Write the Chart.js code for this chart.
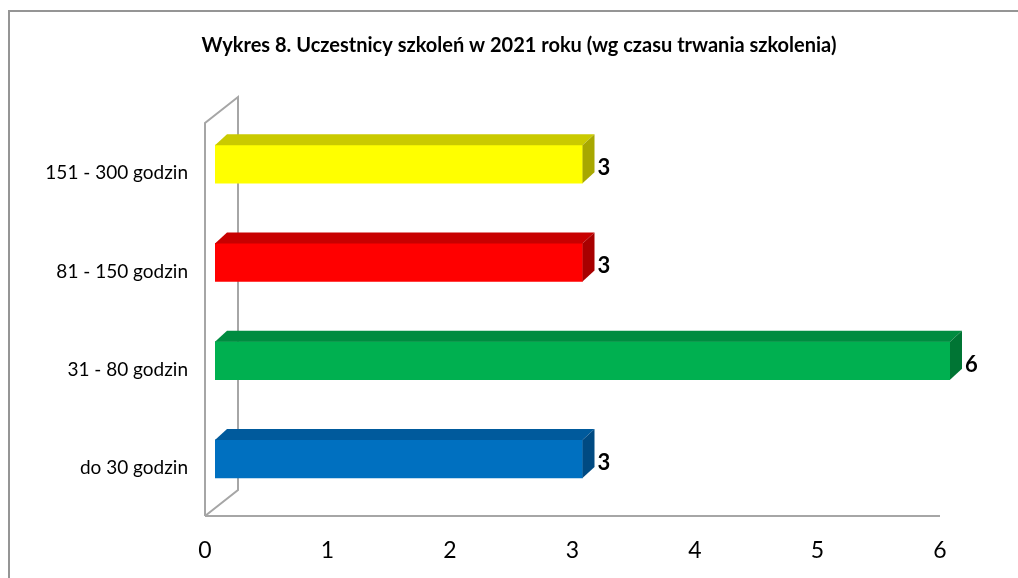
<!DOCTYPE html>
<html>
<head>
<meta charset="utf-8">
<script src="https://cdn.jsdelivr.net/npm/chart.js@4"></script>
<style>
  html, body { margin: 0; padding: 0; background: #ffffff; }
  #wrap { width: 1018px; height: 578px; position: relative; }
</style>
</head>
<body>
<div id="wrap"><canvas id="c" width="1018" height="578"></canvas></div>
<script>
// Training participants in 2021 grouped by course length
const titleText = 'Wykres 8. Uczestnicy szkoleń w 2021 roku (wg czasu trwania szkolenia)';
const categories = ['do 30 godzin', '31 - 80 godzin', '81 - 150 godzin', '151 - 300 godzin'];
const participants = [3, 6, 3, 3];
const xTicks = [0, 1, 2, 3, 4, 5, 6];

// front, top and side face colours per bar
const frontColors = ['#0070c0', '#00b050', '#ff0000', '#ffff00'];
const topColors   = ['#005a9c', '#008c40', '#c80000', '#caca00'];
const sideColors  = ['#004a82', '#007534', '#a80000', '#a8a800'];

const DEPTH_X = 12, DEPTH_Y = -11;
const WALL = '#a6a6a6';
const FONT = 'Lato, "Open Sans", sans-serif';

// gray outer frame, title, 3D wall and floor
const framePlugin = {
  id: 'frame',
  beforeDatasetsDraw(chart) {
    const { ctx, chartArea: a } = chart;
    ctx.save();
    ctx.strokeStyle = '#959595';
    ctx.lineWidth = 2;
    ctx.strokeRect(9, 11, 1040, 600);

    ctx.strokeStyle = WALL;
    ctx.lineWidth = 2;
    const fx = a.left - 10, ftop = a.top + 8, fbot = a.bottom + 8;
    const bx = a.left + 23, btop = a.top - 18, bbot = a.bottom - 18;
    ctx.beginPath();
    ctx.moveTo(fx, fbot); ctx.lineTo(fx, ftop); ctx.lineTo(bx, btop); ctx.lineTo(bx, bbot); ctx.lineTo(fx, fbot);
    ctx.moveTo(fx, fbot); ctx.lineTo(chart.scales.x.getPixelForValue(6) - 10, fbot);
    ctx.stroke();
    ctx.restore();
  },
  afterDraw(chart) {
    const { ctx } = chart;
    ctx.save();
    ctx.fillStyle = '#000000';
    ctx.font = 'bold 20px ' + FONT;
    ctx.textAlign = 'center';
    ctx.textBaseline = 'middle';
    ctx.fillText(titleText, 519, 46);
    ctx.restore();
  }
};

// top and side faces of each bar plus the value label
const bar3dPlugin = {
  id: 'bar3d',
  afterDatasetsDraw(chart) {
    const { ctx } = chart;
    const meta = chart.getDatasetMeta(0);
    ctx.save();
    meta.data.forEach((bar, i) => {
      const { x, y, base, height } = bar.getProps(['x', 'y', 'base', 'height'], true);
      const top = y - height / 2, bot = y + height / 2;
      ctx.fillStyle = topColors[i];
      ctx.beginPath();
      ctx.moveTo(base, top); ctx.lineTo(base + DEPTH_X, top + DEPTH_Y);
      ctx.lineTo(x + DEPTH_X, top + DEPTH_Y); ctx.lineTo(x, top); ctx.closePath();
      ctx.fill();
      ctx.fillStyle = sideColors[i];
      ctx.beginPath();
      ctx.moveTo(x, top); ctx.lineTo(x + DEPTH_X, top + DEPTH_Y);
      ctx.lineTo(x + DEPTH_X, bot + DEPTH_Y); ctx.lineTo(x, bot); ctx.closePath();
      ctx.fill();

      ctx.fillStyle = '#000000';
      ctx.font = 'bold 22px ' + FONT;
      ctx.textAlign = 'left';
      ctx.textBaseline = 'middle';
      ctx.fillText(String(participants[i]), x + 15, y + 4);
    });
    ctx.restore();
  }
};

new Chart(document.getElementById('c'), {
  type: 'bar',
  data: {
    labels: categories,
    datasets: [{
      data: participants,
      backgroundColor: frontColors,
      borderWidth: 0,
      barThickness: 38
    }]
  },
  options: {
    indexAxis: 'y',
    responsive: false,
    animation: false,
    events: [],
    layout: { padding: { top: 115, right: 68, left: 0, bottom: 0 } },
    plugins: { legend: { display: false }, tooltip: { enabled: false }, title: { display: false } },
    scales: {
      x: {
        min: xTicks[0],
        max: xTicks[xTicks.length - 1],
        afterFit(scale) { scale.height = 70; },
        afterBuildTicks(scale) { scale.ticks = xTicks.map(v => ({ value: v })); },
        grid: { display: false, drawTicks: false },
        border: { display: false },
        ticks: { color: '#000000', font: { family: FONT, size: 23 }, padding: 29, labelOffset: -10, maxRotation: 0 }
      },
      y: {
        reverse: true,
        afterFit(scale) { scale.width = 215; },
        grid: { display: false, drawTicks: false },
        border: { display: false },
        ticks: { color: '#000000', font: { family: FONT, size: 19 }, padding: 27, labelOffset: 9 }
      }
    }
  },
  plugins: [framePlugin, bar3dPlugin]
});
</script>
</body>
</html>
